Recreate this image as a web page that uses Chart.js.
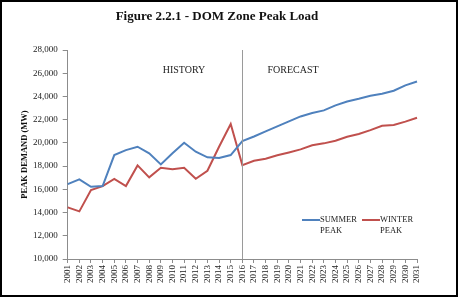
<!DOCTYPE html>
<html>
<head>
<meta charset="utf-8">
<script src="https://cdn.jsdelivr.net/npm/chart.js@4"></script>
<style>
    html, body { margin: 0; padding: 0; background: #fff; }
    #wrap { width: 459px; height: 299px; }
</style>
</head>
<body>
<div id="wrap"><canvas id="myChart" width="459" height="299"></canvas></div>
<script>
const years = ["2001", "2002", "2003", "2004", "2005", "2006", "2007", "2008", "2009", "2010",
    "2011", "2012", "2013", "2014", "2015", "2016", "2017", "2018", "2019", "2020",
    "2021", "2022", "2023", "2024", "2025", "2026", "2027", "2028", "2029", "2030", "2031"];
const summerPeak = [16450, 16860, 16220, 16280, 18950, 19380, 19670, 19100, 18150, 19100,
    20010, 19240, 18760, 18700, 18950, 20150, 20550, 20990, 21420, 21850,
    22280, 22570, 22800, 23230, 23570, 23800, 24060, 24230, 24490, 24950, 25290];
const winterPeak = [14450, 14100, 15940, 16280, 16890, 16280, 18060, 17030, 17860, 17720,
    17860, 16910, 17600, 19670, 21630, 18090, 18460, 18640, 18930, 19180,
    19440, 19790, 19960, 20180, 20530, 20760, 21100, 21480, 21540, 21830, 22170];
const yTicks = { min: 10000, max: 28000, step: 2000 };
const titleText = "Figure 2.2.1 - DOM Zone Peak Load";
const yAxisTitle = "PEAK DEMAND (MW)";
const splitYear = "2016";
const periodLabels = ["HISTORY", "FORECAST"];

const serif = "'Liberation Serif', 'DejaVu Serif', serif";
const blue = "#4f81bd";
const red = "#c0504d";
const axisGray = "#8c8c8c";

// title, history/forecast divider, two-line legend and frame
const extras = {
    id: "extras",
    afterDraw(chart) {
        const { ctx, chartArea, scales } = chart;
        ctx.save();

        ctx.fillStyle = "#111";
        ctx.font = "bold 13px " + serif;
        ctx.textAlign = "center";
        ctx.textBaseline = "middle";
        ctx.fillText(titleText, 217, 17);

        const xs = scales.x.getPixelForValue(years.indexOf(splitYear));
        ctx.strokeStyle = "#9a9a9a";
        ctx.lineWidth = 1;
        ctx.beginPath();
        ctx.moveTo(Math.round(xs) + 0.5, chartArea.top);
        ctx.lineTo(Math.round(xs) + 0.5, chartArea.bottom);
        ctx.stroke();

        ctx.fillStyle = "#222";
        ctx.font = "10px " + serif;
        ctx.fillText(periodLabels[0], 184, 70);
        ctx.fillText(periodLabels[1], 293, 70);

        // legend
        ctx.font = "8.5px " + serif;
        ctx.textAlign = "left";
        const items = [
            { x: 302, color: blue, label: chart.data.datasets[0].label },
            { x: 362, color: red, label: chart.data.datasets[1].label }
        ];
        items.forEach(item => {
            ctx.strokeStyle = item.color;
            ctx.lineWidth = 2;
            ctx.beginPath();
            ctx.moveTo(item.x, 220);
            ctx.lineTo(item.x + 18, 220);
            ctx.stroke();
            const words = item.label.split(" ");
            ctx.fillStyle = "#222";
            ctx.fillText(words[0], item.x + 18, 220);
            ctx.fillText(words[1], item.x + 18, 231);
        });

        ctx.strokeStyle = "#000";
        ctx.lineWidth = 2;
        ctx.strokeRect(1, 1, 456, 295);
        ctx.restore();
    }
};

const ctx = document.getElementById("myChart").getContext("2d");

const myChart = new Chart(ctx, {
    type: "line",
    data: {
        labels: years,
        datasets: [
            {
                label: "SUMMER PEAK",
                data: summerPeak,
                borderColor: blue,
                borderWidth: 2,
                pointRadius: 0,
                tension: 0,
                fill: false
            },
            {
                label: "WINTER PEAK",
                data: winterPeak,
                borderColor: red,
                borderWidth: 2,
                pointRadius: 0,
                tension: 0,
                fill: false
            }
        ]
    },
    options: {
        responsive: false,
        animation: false,
        layout: {
            padding: { left: 0, top: 50, right: 42, bottom: 0 }
        },
        plugins: {
            legend: { display: false },
            tooltip: { enabled: false }
        },
        scales: {
            x: {
                offset: false,
                afterFit: scale => { scale.height = 40; },
                grid: {
                    drawOnChartArea: false,
                    drawTicks: true,
                    tickLength: 4,
                    color: axisGray
                },
                border: { color: axisGray, width: 1 },
                ticks: {
                    autoSkip: false,
                    minRotation: 90,
                    maxRotation: 90,
                    padding: 2,
                    color: "#222",
                    font: { family: serif, size: 9 }
                }
            },
            y: {
                min: yTicks.min,
                max: yTicks.max,
                afterFit: scale => { scale.width = 67.7; },
                grid: {
                    drawOnChartArea: false,
                    drawTicks: true,
                    tickLength: 5,
                    color: axisGray
                },
                border: { color: axisGray, width: 1 },
                ticks: {
                    stepSize: yTicks.step,
                    padding: 5,
                    color: "#222",
                    font: { family: serif, size: 9 },
                    callback: value => value.toLocaleString("en-US")
                },
                title: {
                    display: true,
                    text: yAxisTitle,
                    color: "#111",
                    padding: { top: 20, bottom: 0 },
                    font: { family: serif, size: 8.5, weight: "bold" }
                }
            }
        }
    },
    plugins: [extras]
});
</script>
</body>
</html>
